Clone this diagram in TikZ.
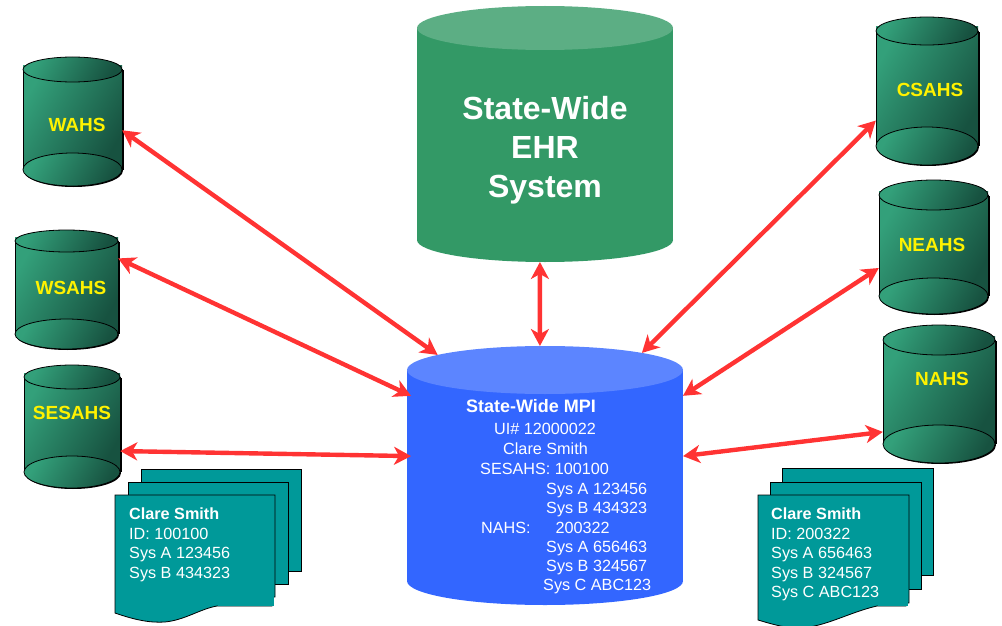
\documentclass[tikz,border=0pt]{standalone}
\usepackage{fontspec}
\setmainfont{Liberation Sans}
\usetikzlibrary{arrows.meta,shapes.geometric}

\definecolor{linkred}{HTML}{FF3333}
\definecolor{ehrgreen}{HTML}{339966}
\definecolor{ehrtop}{HTML}{5CAE84}
\definecolor{mpiblue}{HTML}{3366FF}
\definecolor{mpitop}{HTML}{5C85FF}
\definecolor{canlight}{HTML}{33A07A}
\definecolor{candark}{HTML}{175240}
\definecolor{sheetteal}{HTML}{009999}

\tikzset{
  dbend/.style = {ellipse, outer sep=0pt},
  canface/.style = {left color=canlight, right color=candark, shading angle=60},
  canedge/.style = {draw=black, line width=.8pt},
  sheet/.style = {draw=black, line width=.8pt, fill=sheetteal},
  link/.style = {draw=linkred, line width=4.4pt,
    {Stealth[length=17pt,width=18pt,inset=5pt]}-{Stealth[length=17pt,width=18pt,inset=5pt]}}
}

\begin{document}
\begin{tikzpicture}
    [x = 1pt, y = -1pt, every node/.style = {inner sep = 0pt}]
    \useasboundingbox (0,0) rectangle (1002,626);

    % the two large stores
    \node (ehrbase) [dbend, fill = ehrgreen, minimum width = 256pt, minimum height = 44pt] at (545,240) {};
    \node (ehr) [fill = ehrgreen, minimum width = 256pt, minimum height = 212pt, outer sep = 0pt] at (545,134) {};
    \node (ehrcap) [dbend, fill = ehrtop, minimum width = 256pt, minimum height = 44pt] at (545,28) {};
    \node (mpibase) [dbend, fill = mpiblue, minimum width = 276pt, minimum height = 48pt] at (545,581) {};
    \node (mpi) [fill = mpiblue, minimum width = 276pt, minimum height = 211pt, outer sep = 0pt] at (545,475.5) {};
    \node (mpicap) [dbend, fill = mpitop, minimum width = 276pt, minimum height = 48pt] at (545,370) {};
    \node (ehrtext) [text = white, align = center, font = \fontsize{32}{39}\selectfont\bfseries]
      at (545,150) {State-Wide\\EHR\\System};
    \coordinate (mpiupper) at ([xshift = 4pt]mpi.150);
    \coordinate (mpilower) at ([xshift = 4pt]mpi.172);

    % area health services
    \foreach \name/\xl/\xr/\yt/\yb/\rt/\rb/\lx/\ly/\txt in {
        wahs/23/122/57/186/12.5/16.5/77/125/WAHS,
        wsahs/15/118/230/349/11/15/71/288/WSAHS,
        sesahs/24/120/365/488/12/16/72/413/SESAHS,
        csahs/876/978/17/165/14/19/930/90/CSAHS,
        neahs/879/988/180/314/15/18/932/245/NEAHS,
        nahs/883/995/325/463/15/19/942/379/NAHS} {
      \fill[black] (\xl+2,\yt+\rt+1) rectangle (\xr+2,\yb-\rb);
      \fill[black] ({(\xl+\xr)/2+1},\yb-\rb+1) ellipse [x radius = {(\xr-\xl)/2}, y radius = \rb];
      \shade[canface] (\xl,\yt+\rt-4) rectangle (\xr,\yb-\rb);
      \draw[canedge] (\xl,\yt+\rt) -- (\xl,\yb-\rb) (\xr,\yt+\rt) -- (\xr,\yb-\rb);
      \draw[canedge, canface] ({(\xl+\xr)/2},\yb-\rb) ellipse [x radius = {(\xr-\xl)/2}, y radius = \rb];
      \draw[canedge, canface] ({(\xl+\xr)/2},\yt+\rt) ellipse [x radius = {(\xr-\xl)/2}, y radius = \rt];
      \node (\name) [minimum width = {(\xr-\xl)*1pt}, minimum height = {(\yb-\yt)*1pt}]
        at ({(\xl+\xr)/2},{(\yt+\yb)/2}) {};
      \node (\name text) [text = yellow, font = \fontsize{19}{19}\selectfont\bfseries]
        at (\lx,\ly) {\txt};
    }

    % text inside the MPI store
    \node (mpititle) [text = white, font = \fontsize{18}{18}\selectfont\bfseries]
      at (531,406) {State-Wide MPI};
    \foreach \lx/\ly/\txt in {
        494/434.5/UI\# 12000022,
        503/454.5/Clare Smith,
        480/474.5/SESAHS: 100100,
        546/494.5/Sys A 123456,
        546/513.5/Sys B 434323,
        481/533.5/NAHS:\hspace{25pt}200322,
        546/552.5/Sys A 656463,
        546/571.5/Sys B 324567,
        543/590.5/Sys C ABC123} {
      \node [anchor = base west, text = white, font = \fontsize{16.2}{16.2}\selectfont]
        at (\lx,\ly) {\txt};
    }

    % record sheets, left
    \draw[sheet] (141,469) rectangle (301,571);
    \draw[sheet] (128,482) rectangle (288,584);
    \draw[sheet] (275,597) -- (275,495) -- (115,495) -- (115,613)
      .. controls (135,620) and (150,623) .. (165,622)
      .. controls (185,620) and (200,609) .. (217,606) -- (272,606) -- (272,597) -- cycle;
    \fill[sheetteal] (218,596) rectangle (274,605.6);
    \node (recleft) [anchor = north west, align = left, text = white,
      font = \fontsize{16.2}{19.5}\selectfont] at (129,508)
      {\textbf{Clare Smith}\\ID: 100100\\Sys A 123456\\Sys B 434323};

    % record sheets, right
    \draw[sheet] (782,468) rectangle (933,575);
    \draw[sheet] (770,482) rectangle (921,589);
    \draw[sheet] (909,603) -- (909,495) -- (758,495) -- (758,620)
      .. controls (775,625) and (785,628) .. (800,628)
      .. controls (825,627) and (850,612) .. (877,606) -- (906,606) -- (906,603) -- cycle;
    \fill[sheetteal] (878,596) rectangle (908,605.6);
    \node (recright) [anchor = north west, align = left, text = white,
      font = \fontsize{16.2}{19.5}\selectfont] at (771,508)
      {\textbf{Clare Smith}\\ID: 200322\\Sys A 656463\\Sys B 324567\\Sys C ABC123};

    \foreach \from/\to in {wahs.-10/mpicap.172, wsahs.31/mpiupper, sesahs.-27/mpilower,
        ehrbase.-103/mpicap.102, csahs.210/mpicap.10, neahs.201/mpi.30, nahs.214/mpi.8}
      \draw[link] (\from) -- (\to);
\end{tikzpicture}
\end{document}
